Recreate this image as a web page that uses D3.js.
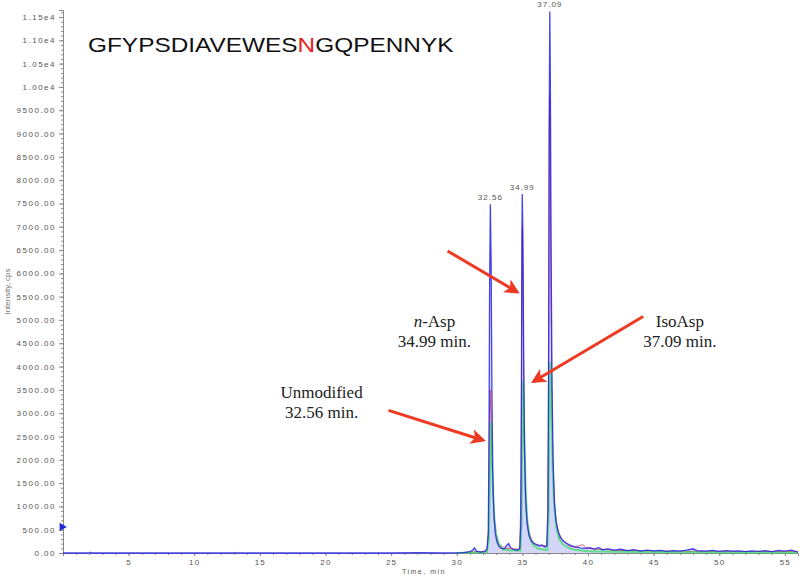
<!DOCTYPE html>
<html>
<head>
  <meta charset="utf-8">
  <title>XIC GFYPSDIAVEWESNGQPENNYK</title>
  <style>
    body { margin: 0; background: #fff; }
  </style>
</head>
<body>
  <svg id="main" width="800" height="576"></svg>
  <script src="https://cdn.jsdelivr.net/npm/d3@7"></script>
  <script>
    // time (min), intensity (cps)
    const blueTrace = [
      [0, 0], [2, 0], [2.1, 15], [2.2, 0],
      [13, 0], [13.1, 10], [13.2, 0], [25, 0], [27, 5], [29, 0], [30.5, 10], [31.0, 30],
      [31.2, 60], [31.35, 110], [31.5, 40], [31.8, 20], [32.1, 30], [32.3, 80],
      [32.4, 400], [32.46, 2500], [32.5, 5500], [32.56, 7480], [32.62, 6200], [32.68, 3500],
      [32.74, 1800], [32.82, 900], [32.92, 450], [33.05, 250], [33.2, 150], [33.4, 100],
      [33.6, 90], [33.8, 160], [33.95, 200], [34.1, 120], [34.3, 80], [34.6, 60], [34.8, 100],
      [34.88, 600], [34.93, 3500], [34.96, 6500], [34.99, 7700], [35.04, 6800], [35.1, 4200],
      [35.16, 2300], [35.24, 1200], [35.35, 650], [35.5, 380], [35.7, 250], [35.9, 200],
      [36.1, 180], [36.3, 150], [36.5, 170], [36.7, 130], [36.85, 150], [36.95, 900],
      [37.01, 5000], [37.05, 9500], [37.09, 11620], [37.13, 10200], [37.19, 6500],
      [37.26, 3600], [37.34, 2000], [37.44, 1100], [37.56, 700], [37.7, 480], [37.9, 330],
      [38.1, 260], [38.4, 200], [38.7, 160], [39, 130], [39.4, 110], [39.8, 100], [40.2, 110],
      [40.5, 80], [40.8, 120], [41.1, 70], [41.5, 90], [42, 60], [42.5, 80], [43, 50],
      [43.5, 70], [44, 40], [44.5, 60], [45, 45], [45.5, 55], [46, 35], [46.5, 50], [47, 40],
      [47.5, 60], [48, 90], [48.3, 50], [49, 40], [49.5, 55], [50, 35], [50.5, 50], [51, 40],
      [51.5, 45], [52, 30], [52.5, 45], [53, 35], [53.5, 50], [54, 30], [54.5, 55], [55, 40],
      [55.5, 60], [56, 20]
    ]

    const redTrace = [
      [30, 0], [32.3, 40], [32.42, 500], [32.48, 2600], [32.54, 3500], [32.6, 3000],
      [32.66, 2400], [32.74, 1500], [32.84, 800], [33, 400], [33.2, 200], [33.6, 100],
      [34.8, 80], [34.9, 1500], [34.96, 5700], [35.0, 7000], [35.06, 5500], [35.12, 3000],
      [35.2, 1700], [35.3, 900], [35.45, 500], [35.7, 280], [36, 180], [36.9, 150],
      [36.98, 2500], [37.04, 9000], [37.08, 9800], [37.13, 8000], [37.18, 5500], [37.26, 3000],
      [37.34, 1800], [37.46, 1000], [37.58, 650], [37.8, 420], [38, 300], [38.3, 220],
      [38.6, 150], [39, 130], [39.6, 180], [39.8, 120], [40.5, 90], [42, 60], [44, 50],
      [46, 40], [50, 35], [56, 30]
    ]

    const greenTrace = [
      [30, 0], [32.3, 20], [32.45, 300], [32.52, 1500], [32.58, 2800], [32.64, 2600],
      [32.7, 1900], [32.78, 1200], [32.88, 700], [33.0, 400], [33.2, 200], [33.5, 80],
      [34, 60], [34.85, 50], [34.93, 600], [34.99, 2500], [35.04, 3700], [35.1, 3200],
      [35.17, 2200], [35.26, 1300], [35.38, 700], [35.55, 350], [35.8, 180], [36.2, 90],
      [36.9, 60], [36.98, 700], [37.05, 3000], [37.1, 4100], [37.16, 3800], [37.23, 2700],
      [37.32, 1700], [37.43, 1000], [37.58, 550], [37.8, 300], [38.1, 180], [38.5, 110],
      [39, 70], [40, 40], [42, 25], [45, 20], [50, 15], [56, 10]
    ]

    // start-of-run marker
    const startMarker = [0, 560]

    const peakApex = [[32.56, 7480], [34.99, 7700], [37.09, 11620]]
    const peakLabels = ['32.56', '34.99', '37.09']

    const yMajorTicks = d3.range(0, 11501, 500)
    const yMinorTicks = d3.range(0, 11601, 100)
    const xMajorTicks = [5, 10, 15, 20, 25, 30, 35, 40, 45, 50, 55]
    const xMinorTicks = d3.range(1, 56, 1)

    const sequenceParts = ['GFYPSDIAVEWES', 'N', 'GQPENNYK']

    // annotations: text lines, text anchor point, arrow tail, arrow head (data coords)
    const annotations = [
      { lines: ['Unmodified', '32.56 min.'], at: [19.7, 3330], from: [24.8, 3060], to: [32.0, 2420] },
      { lines: ['n-Asp', '34.99 min.'], at: [28.3, 4850], from: [29.3, 6480], to: [34.6, 5600] },
      { lines: ['IsoAsp', '37.09 min.'], at: [47.0, 4850], from: [44.2, 5075], to: [35.85, 3680] }
    ]

    const svg = d3.select('#main')
    const margin = { top: 10, right: 2, bottom: 23, left: 63 }
    const width = +svg.attr('width')
    const height = +svg.attr('height')

    const x = d3.scaleLinear().domain([0, 56]).range([margin.left, width - margin.right])
    const y = d3.scaleLinear().domain([0, 11650]).range([height - margin.bottom, margin.top])

    const axisColor = '#8a8a8a'
    const tickFont = 'Arial, "Liberation Sans", sans-serif'

    // y axis
    const yAxisG = svg.append('g').attr('transform', `translate(${margin.left},0)`)
    yAxisG.call(d3.axisLeft(y).tickValues(yMinorTicks).tickSize(2).tickFormat(''))
    yAxisG.call(g => g.select('.domain').remove())
    const yMajor = svg.append('g').attr('transform', `translate(${margin.left},0)`)
      .call(d3.axisLeft(y).tickValues(yMajorTicks).tickSize(4).tickPadding(3)
        .tickFormat(d => d >= 10000 ? (d / 10000).toFixed(2) + 'e4' : d.toFixed(2)))
    yMajor.selectAll('text')
      .attr('font-family', tickFont)
      .attr('font-size', 8)
      .attr('letter-spacing', 1.5)
      .attr('fill', '#555')

    svg.append('text')
      .attr('transform', `translate(10,${(margin.top + height - margin.bottom) / 2 + 10}) rotate(-90)`)
      .attr('text-anchor', 'middle')
      .attr('font-family', tickFont)
      .attr('font-size', 8)
      .attr('fill', '#777')
      .text('Intensity, cps')

    // x axis
    const xBase = height - margin.bottom
    svg.append('g').attr('transform', `translate(0,${xBase})`)
      .call(d3.axisBottom(x).tickValues(xMinorTicks).tickSize(2).tickFormat(''))
      .call(g => g.select('.domain').remove())
    const xMajor = svg.append('g').attr('transform', `translate(0,${xBase})`)
      .call(d3.axisBottom(x).tickValues(xMajorTicks).tickSize(3).tickPadding(3))
    xMajor.selectAll('text')
      .attr('font-family', tickFont)
      .attr('font-size', 8)
      .attr('letter-spacing', 1.3)
      .attr('fill', '#555')
    svg.selectAll('.domain, .tick line').attr('stroke', axisColor)

    svg.append('text')
      .attr('x', x(27.5)).attr('y', height - 2)
      .attr('text-anchor', 'middle')
      .attr('font-family', tickFont)
      .attr('font-size', 7)
      .attr('letter-spacing', 1.5)
      .attr('fill', '#555')
      .text('Time, min')

    // traces
    const line = d3.line().x(d => x(d[0])).y(d => y(d[1]))
    const area = d3.area().x(d => x(d[0])).y0(y(0)).y1(d => y(d[1]))

    svg.append('path').datum(blueTrace)
      .attr('d', area)
      .attr('fill', '#c2c5f6')
      .attr('opacity', 0.7)

    svg.append('path').datum(redTrace)
      .attr('d', line)
      .attr('fill', 'none')
      .attr('stroke', '#d81c3c')
      .attr('stroke-opacity', 0.7)
      .attr('stroke-width', 1)

    svg.append('path').datum(greenTrace)
      .attr('d', line)
      .attr('fill', 'none')
      .attr('stroke', '#2ee05a')
      .attr('stroke-opacity', 0.7)
      .attr('stroke-width', 2)

    svg.append('path').datum(blueTrace)
      .attr('d', line)
      .attr('fill', 'none')
      .attr('stroke', '#2424e6')
      .attr('stroke-opacity', 0.85)
      .attr('stroke-width', 1.3)

    svg.append('path')
      .attr('d', d3.symbol(d3.symbolTriangle, 30)())
      .attr('transform', `translate(${x(startMarker[0]) - 1},${y(startMarker[1])}) rotate(90)`)
      .attr('fill', '#1c2ad8')

    // peak labels
    svg.selectAll('.peak-label')
      .data(peakApex)
      .join('text')
      .attr('class', 'peak-label')
      .attr('x', d => x(d[0]))
      .attr('y', d => y(d[1]) - 4)
      .attr('text-anchor', 'middle')
      .attr('font-family', tickFont)
      .attr('font-size', 8)
      .attr('letter-spacing', 1)
      .attr('fill', '#555')
      .text((d, i) => peakLabels[i])

    // peptide sequence
    const title = svg.append('text')
      .attr('transform', 'translate(88,52) scale(1.22,1)')
      .attr('font-family', tickFont)
      .attr('font-size', 20)
      .attr('fill', '#111')
    title.selectAll('tspan')
      .data(sequenceParts)
      .join('tspan')
      .attr('fill', (d, i) => i === 1 ? '#e8201c' : '#111')
      .text(d => d)

    // arrows
    const arrowColor = '#ee3a22'
    const defs = svg.append('defs')
    defs.append('marker')
      .attr('id', 'head')
      .attr('viewBox', '0 0 10 10')
      .attr('refX', 8).attr('refY', 5)
      .attr('markerWidth', 5).attr('markerHeight', 5)
      .attr('orient', 'auto')
      .append('path')
      .attr('d', 'M0,0 L10,5 L0,10 L2.5,5 Z')
      .attr('fill', arrowColor)

    const serif = '"Palatino Linotype", Palatino, "Liberation Serif", "DejaVu Serif", serif'
    annotations.forEach(a => {
      svg.append('line')
        .attr('x1', x(a.from[0])).attr('y1', y(a.from[1]))
        .attr('x2', x(a.to[0])).attr('y2', y(a.to[1]))
        .attr('stroke', arrowColor)
        .attr('stroke-width', 3)
        .attr('marker-end', 'url(#head)')

      const t = svg.append('text')
        .attr('x', x(a.at[0])).attr('y', y(a.at[1]))
        .attr('text-anchor', 'middle')
        .attr('font-family', serif)
        .attr('font-size', 17)
        .attr('fill', '#222')
      a.lines.forEach((ln, i) => {
        const ts = t.append('tspan')
          .attr('x', x(a.at[0]))
          .attr('dy', i === 0 ? 0 : 20)
        if (ln.startsWith('n-')) {
          ts.append('tspan').attr('font-style', 'italic').text('n')
          ts.append('tspan').text(ln.slice(1))
        } else {
          ts.text(ln)
        }
      })
    })
  </script>
</body>
</html>
